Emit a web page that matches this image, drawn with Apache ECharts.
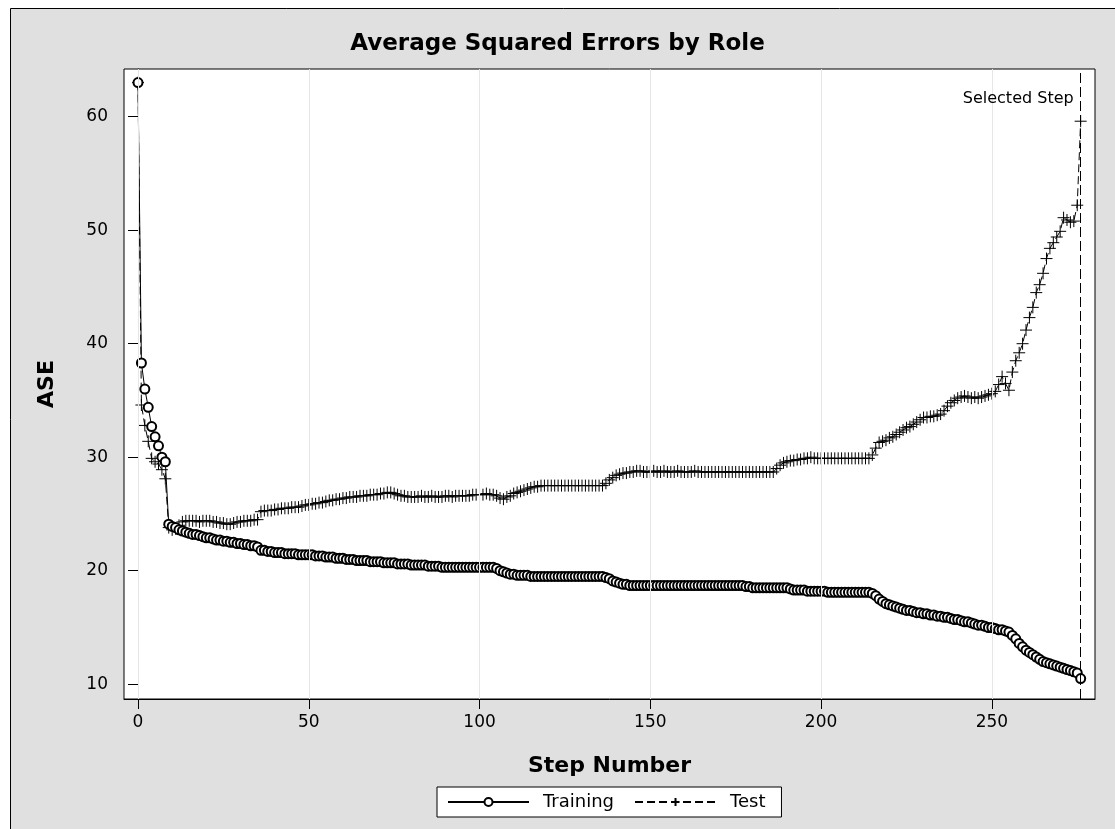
<!DOCTYPE html>
<html>
<head>
<meta charset="utf-8">
<script src="https://cdn.jsdelivr.net/npm/echarts@6/dist/echarts.min.js"></script>
<style>
  html, body { margin: 0; padding: 0; background: #fff; }
  #chart { width: 1115px; height: 829px; }
</style>
</head>
<body>
<div id="chart"></div>
<script>
// ASE per step (index = step number 0..276)
const trainingAse = [
  63.0, 38.3, 36.0, 34.4, 32.7, 31.8, 31.0, 30.0, 29.6, 24.1,
  23.9, 23.8, 23.6, 23.5, 23.4, 23.3, 23.2, 23.2, 23.1, 23.0,
  22.9, 22.9, 22.8, 22.7, 22.7, 22.6, 22.6, 22.5, 22.5, 22.4,
  22.4, 22.3, 22.3, 22.2, 22.2, 22.1, 21.8, 21.8, 21.7, 21.7,
  21.6, 21.6, 21.6, 21.5, 21.5, 21.5, 21.5, 21.4, 21.4, 21.4,
  21.4, 21.4, 21.3, 21.3, 21.3, 21.2, 21.2, 21.2, 21.1, 21.1,
  21.1, 21.0, 21.0, 21.0, 20.9, 20.9, 20.9, 20.9, 20.8, 20.8,
  20.8, 20.8, 20.7, 20.7, 20.7, 20.7, 20.6, 20.6, 20.6, 20.6,
  20.5, 20.5, 20.5, 20.5, 20.5, 20.4, 20.4, 20.4, 20.4, 20.3,
  20.3, 20.3, 20.3, 20.3, 20.3, 20.3, 20.3, 20.3, 20.3, 20.3,
  20.3, 20.3, 20.3, 20.3, 20.3, 20.2, 20.0, 19.9, 19.8, 19.7,
  19.7, 19.6, 19.6, 19.6, 19.6, 19.5, 19.5, 19.5, 19.5, 19.5,
  19.5, 19.5, 19.5, 19.5, 19.5, 19.5, 19.5, 19.5, 19.5, 19.5,
  19.5, 19.5, 19.5, 19.5, 19.5, 19.5, 19.5, 19.4, 19.3, 19.1,
  19.0, 18.9, 18.8, 18.8, 18.7, 18.7, 18.7, 18.7, 18.7, 18.7,
  18.7, 18.7, 18.7, 18.7, 18.7, 18.7, 18.7, 18.7, 18.7, 18.7,
  18.7, 18.7, 18.7, 18.7, 18.7, 18.7, 18.7, 18.7, 18.7, 18.7,
  18.7, 18.7, 18.7, 18.7, 18.7, 18.7, 18.7, 18.7, 18.6, 18.6,
  18.5, 18.5, 18.5, 18.5, 18.5, 18.5, 18.5, 18.5, 18.5, 18.5,
  18.5, 18.4, 18.3, 18.3, 18.3, 18.3, 18.2, 18.2, 18.2, 18.2,
  18.2, 18.2, 18.1, 18.1, 18.1, 18.1, 18.1, 18.1, 18.1, 18.1,
  18.1, 18.1, 18.1, 18.1, 18.1, 18.0, 17.8, 17.5, 17.3, 17.1,
  17.0, 16.9, 16.8, 16.7, 16.6, 16.5, 16.5, 16.4, 16.3, 16.3,
  16.2, 16.2, 16.1, 16.1, 16.0, 16.0, 15.9, 15.9, 15.8, 15.7,
  15.7, 15.6, 15.5, 15.5, 15.4, 15.3, 15.2, 15.2, 15.1, 15.0,
  15.0, 14.9, 14.8, 14.8, 14.7, 14.6, 14.3, 14.0, 13.6, 13.3,
  13.0, 12.8, 12.6, 12.4, 12.2, 12.0, 11.9, 11.8, 11.7, 11.6,
  11.5, 11.4, 11.3, 11.2, 11.1, 11.0, 10.5
]

const testAse = [
  63.0, 34.6, 32.8, 31.4, 29.9, 29.6, 29.4, 28.9, 28.1, 23.8,
  23.6, 23.7, 24.0, 24.3, 24.4, 24.4, 24.4, 24.4, 24.3, 24.4,
  24.4, 24.4, 24.3, 24.3, 24.2, 24.2, 24.1, 24.1, 24.2, 24.3,
  24.3, 24.4, 24.4, 24.4, 24.5, 24.5, 25.2, 25.3, 25.3, 25.3,
  25.4, 25.4, 25.5, 25.5, 25.5, 25.6, 25.6, 25.6, 25.7, 25.8,
  25.8, 25.9, 25.9, 26.0, 26.0, 26.1, 26.2, 26.2, 26.3, 26.3,
  26.4, 26.4, 26.5, 26.5, 26.5, 26.6, 26.6, 26.6, 26.7, 26.7,
  26.7, 26.8, 26.8, 26.9, 26.9, 26.8, 26.7, 26.6, 26.6, 26.5,
  26.5, 26.5, 26.5, 26.6, 26.5, 26.5, 26.6, 26.5, 26.5, 26.5,
  26.6, 26.6, 26.5, 26.6, 26.6, 26.6, 26.6, 26.6, 26.7, 26.7,
  26.7, 26.7, 26.8, 26.7, 26.7, 26.6, 26.4, 26.3, 26.5, 26.6,
  26.8, 26.9, 27.0, 27.1, 27.2, 27.3, 27.4, 27.4, 27.5, 27.5,
  27.5, 27.5, 27.5, 27.5, 27.5, 27.5, 27.5, 27.5, 27.5, 27.5,
  27.5, 27.5, 27.5, 27.5, 27.5, 27.5, 27.5, 27.7, 28.0, 28.2,
  28.4, 28.5, 28.6, 28.6, 28.7, 28.7, 28.8, 28.8, 28.7, 28.7,
  28.7, 28.8, 28.7, 28.7, 28.8, 28.7, 28.7, 28.7, 28.8, 28.7,
  28.7, 28.7, 28.7, 28.8, 28.7, 28.7, 28.7, 28.7, 28.7, 28.7,
  28.7, 28.7, 28.7, 28.7, 28.7, 28.7, 28.7, 28.7, 28.7, 28.7,
  28.7, 28.7, 28.7, 28.7, 28.7, 28.7, 28.7, 29.0, 29.3, 29.5,
  29.6, 29.7, 29.7, 29.8, 29.8, 29.9, 29.9, 30.0, 29.9, 29.9,
  29.9, 29.9, 29.9, 29.9, 29.9, 29.9, 29.9, 29.9, 29.9, 29.9,
  29.9, 29.9, 29.9, 29.9, 29.9, 30.2, 30.8, 31.3, 31.4, 31.5,
  31.7, 31.8, 32.0, 32.2, 32.4, 32.6, 32.7, 32.9, 33.1, 33.3,
  33.5, 33.5, 33.6, 33.6, 33.7, 33.8, 34.1, 34.5, 34.8, 35.0,
  35.2, 35.3, 35.4, 35.3, 35.2, 35.3, 35.2, 35.3, 35.4, 35.5,
  35.6, 35.8, 36.4, 37.1, 36.5, 35.9, 37.5, 38.5, 39.2, 40.0,
  41.2, 42.3, 43.2, 44.5, 45.2, 46.2, 47.5, 48.4, 48.9, 49.4,
  49.9, 51.1, 50.9, 50.7, 50.8, 52.2, 59.6
]

const xTicks = [0, 50, 100, 150, 200, 250]
const yTicks = [10, 20, 30, 40, 50, 60]
const selectedStep = 276

const FONT = 'DejaVu Sans'
const PLUS = 'path://M0,6L12,6M6,0L6,12'

const chart = echarts.init(document.getElementById('chart'))

const toPairs = arr => arr.map((v, i) => [i, v])

chart.setOption({
  animation: false,
  backgroundColor: '#fff',
  graphic: [{
    type: 'rect',
    z: -10,
    silent: true,
    shape: { x: 10.5, y: 8.5, width: 1200, height: 900 },
    style: { fill: '#e0e0e0', stroke: '#000', lineWidth: 1 }
  }],
  title: {
    text: 'Average Squared Errors by Role',
    left: 'center',
    top: 28,
    textStyle: { fontFamily: FONT, fontSize: 23, fontWeight: 'bold', color: '#000' }
  },
  legend: {
    data: ['Training', 'Test'],
    left: 437,
    top: 787,
    orient: 'horizontal',
    backgroundColor: '#fff',
    borderColor: '#000',
    borderWidth: 1,
    padding: [6, 16, 6, 10],
    itemWidth: 81,
    itemHeight: 10,
    itemGap: 20,
    textStyle: { fontFamily: FONT, fontSize: 18, color: '#000', padding: [0, 3, 0, 9] }
  },
  grid: {
    left: 124,
    right: 20,
    top: 69,
    bottom: 130,
    show: true,
    backgroundColor: '#fff',
    borderColor: '#000',
    borderWidth: 1
  },
  xAxis: {
    type: 'value',
    min: -4.1,
    max: 280.2,
    name: 'Step Number',
    nameLocation: 'middle',
    nameGap: 56,
    nameTextStyle: { fontFamily: FONT, fontSize: 22, fontWeight: 'bold', color: '#000' },
    axisLine: { show: true, lineStyle: { color: '#000', width: 1 } },
    axisTick: { show: true, length: 10, lineStyle: { color: '#000' }, customValues: xTicks },
    axisLabel: { fontFamily: FONT, fontSize: 17, color: '#000', margin: 15, customValues: xTicks },
    splitLine: { show: false }
  },
  yAxis: {
    type: 'value',
    min: 8.7,
    max: 64.2,
    name: 'ASE',
    nameLocation: 'middle',
    nameGap: 66,
    nameTextStyle: { fontFamily: FONT, fontSize: 22, fontWeight: 'bold', color: '#000' },
    axisLine: { show: true, lineStyle: { color: '#000', width: 1 } },
    axisTick: { show: true, length: 10, lineStyle: { color: '#000' }, customValues: yTicks },
    axisLabel: { fontFamily: FONT, fontSize: 17, color: '#000', margin: 16, customValues: yTicks },
    splitLine: { show: false }
  },
  series: [
    {
      // vertical reference lines at the x ticks
      name: 'grid',
      type: 'line',
      data: [],
      z: 1,
      silent: true,
      markLine: {
        silent: true,
        symbol: 'none',
        label: { show: false },
        lineStyle: { color: '#e6e6e6', type: 'solid', width: 1 },
        data: xTicks.map(v => ({ xAxis: v }))
      }
    },
    {
      name: 'Test',
      type: 'line',
      z: 3,
      data: toPairs(testAse),
      symbol: PLUS,
      symbolSize: 12,
      showAllSymbol: true,
      lineStyle: { color: '#000', width: 1, type: [8, 4] },
      itemStyle: { color: 'none', borderColor: '#000', borderWidth: 1 },
      markLine: {
        silent: true,
        symbol: 'none',
        label: { show: false },
        lineStyle: { color: '#000', type: [10, 4], width: 1 },
        data: [{ xAxis: selectedStep }]
      },
      markPoint: {
        silent: true,
        data: [{
          coord: [selectedStep, 61.6],
          symbol: 'circle',
          symbolSize: 0,
          itemStyle: { color: 'transparent' },
          label: {
            show: true,
            position: 'left',
            distance: 7,
            formatter: 'Selected Step',
            fontFamily: FONT,
            fontSize: 16,
            color: '#000'
          }
        }]
      }
    },
    {
      name: 'Training',
      type: 'line',
      z: 4,
      data: toPairs(trainingAse),
      symbol: 'emptyCircle',
      symbolSize: 9,
      showAllSymbol: true,
      lineStyle: { color: '#000', width: 1 },
      itemStyle: { color: '#000', borderWidth: 1 }
    }
  ]
})
</script>
</body>
</html>
